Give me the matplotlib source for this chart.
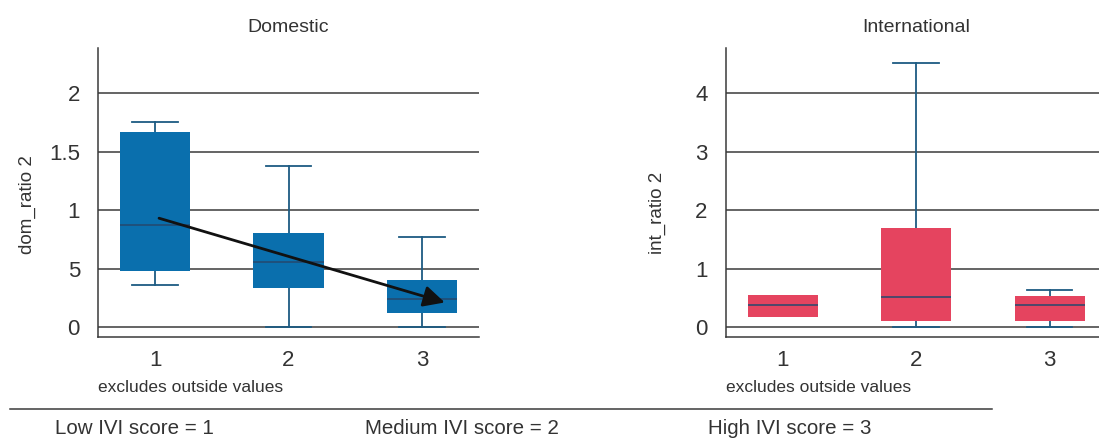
import matplotlib
matplotlib.use("Agg")
import matplotlib.pyplot as plt
from matplotlib.lines import Line2D

plt.rcParams['font.family'] = ['Liberation Sans', 'DejaVu Sans']

categories = [1, 2, 3]

# Domestic: dom_ratio 2 by IVI score
dom_q1 = [0.48, 0.33, 0.12]
dom_med = [0.87, 0.56, 0.24]
dom_q3 = [1.67, 0.80, 0.40]
dom_lo = [0.36, 0.0, 0.0]
dom_hi = [1.75, 1.38, 0.77]

# International: int_ratio 2 by IVI score
int_q1 = [0.18, 0.10, 0.10]
int_med = [0.37, 0.51, 0.38]
int_q3 = [0.54, 1.69, 0.53]
int_lo = [0.18, 0.0, 0.0]
int_hi = [0.54, 4.51, 0.64]

dom_ticks = [0, 0.5, 1, 1.5, 2]
dom_ticklabels = ['0', '5', '1', '1.5', '2']
int_ticks = [0, 1, 2, 3, 4]

footer = ['Low IVI score = 1', 'Medium IVI score = 2', 'High IVI score = 3']

text_color = '#333333'
line_color = '#3a3a3a'
whisker_color = '#1d5b82'
median_color = '#25496e'


def make_stats(q1, med, q3, lo, hi):
    return [dict(q1=a, med=b, q3=c, whislo=d, whishi=e, fliers=[])
            for a, b, c, d, e in zip(q1, med, q3, lo, hi)]


def draw_panel(ax, stats, color, ylim, ticks, ticklabels, ylabel, title, label_xy):
    parts = ax.bxp(stats, positions=categories, widths=0.525, patch_artist=True,
                   showfliers=False,
                   boxprops=dict(facecolor=color, edgecolor=color, linewidth=0, zorder=3),
                   medianprops=dict(color=median_color, linewidth=1.1, zorder=4),
                   whiskerprops=dict(color=whisker_color, linewidth=1.3, zorder=2),
                   capprops=dict(color=whisker_color, linewidth=1.3, zorder=2),
                   capwidths=0.34)
    # no cap where the whisker has zero length
    for i, st in enumerate(stats):
        if st['whislo'] == st['q1']:
            parts['caps'][2 * i].set_visible(False)
        if st['whishi'] == st['q3']:
            parts['caps'][2 * i + 1].set_visible(False)
    ax.set_xlim(0.573, 3.427)
    ax.set_ylim(*ylim)
    ax.set_yticks(ticks)
    ax.set_yticklabels(ticklabels)
    ax.set_xticks(categories)
    ax.set_xticklabels([str(c) for c in categories])
    ax.yaxis.grid(True, color=line_color, linewidth=1.1, zorder=1)
    ax.set_axisbelow(True)
    for s in ['top', 'right']:
        ax.spines[s].set_visible(False)
    for s in ['left', 'bottom']:
        ax.spines[s].set_color(line_color)
        ax.spines[s].set_linewidth(1.1)
    ax.tick_params(axis='y', length=0, pad=13, labelsize=16, labelcolor=text_color)
    ax.tick_params(axis='x', length=0, pad=9, labelsize=16, labelcolor=text_color)
    ax.set_ylabel(ylabel, fontsize=13.5, color=text_color)
    ax.yaxis.set_label_coords(*label_xy)
    ax.text(0, -0.175, 'excludes outside values', transform=ax.transAxes,
            fontsize=12.5, color=text_color, ha='left', va='center')
    ax.text(0.5, 1.07, title, transform=ax.transAxes, fontsize=14,
            color=text_color, ha='center', va='center')


fig = plt.figure(figsize=(10.99, 4.4), dpi=100)
ax1 = fig.add_axes([0.0892, 0.234, 0.3467, 0.657])
ax2 = fig.add_axes([0.6603, 0.234, 0.3467, 0.657])

draw_panel(ax1, make_stats(dom_q1, dom_med, dom_q3, dom_lo, dom_hi), '#0a6fad',
           (-0.0855, 2.385), dom_ticks, dom_ticklabels, 'dom_ratio 2', 'Domestic',
           (-0.164, 0.46))
draw_panel(ax2, make_stats(int_q1, int_med, int_q3, int_lo, int_hi), '#e5445f',
           (-0.171, 4.77), int_ticks, [str(t) for t in int_ticks], 'int_ratio 2',
           'International', (-0.156, 0.43))

# trend arrow on the domestic panel
ax1.annotate('', xy=(3.17, 0.21), xytext=(1.03, 0.93),
             arrowprops=dict(arrowstyle='-|>', color='#111111', lw=2,
                             mutation_scale=32, shrinkA=0, shrinkB=0),
             zorder=5)

fig.add_artist(Line2D([10 / 1099, 992 / 1099], [1 - 409 / 440, 1 - 409 / 440],
                      color=line_color, linewidth=1.1))
for x, label in zip([55, 365, 708], footer):
    fig.text(x / 1099, 1 - 428 / 440, label, fontsize=14.8, color=text_color,
             ha='left', va='center')

fig.savefig('out.png', dpi=100)
